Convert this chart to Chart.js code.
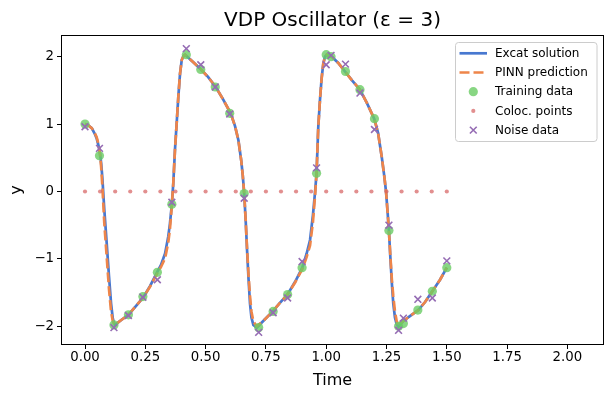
<!DOCTYPE html>
<html><head><meta charset="utf-8">
<script src="https://cdn.jsdelivr.net/npm/chart.js@4.4.0/dist/chart.umd.min.js"></script>
<style>html,body{margin:0;padding:0;background:#fff;}canvas{display:block;}</style>
</head><body>
<canvas id="c" width="613" height="398"></canvas>
<script>
// ---- data ----
const exactT = [0.000,0.014,0.028,0.040,0.048,0.056,0.062,0.067,0.072,0.080,0.090,0.0995,0.108,0.115,0.120,0.124,
  0.149,0.180,0.211,0.242,0.270,0.297,0.315,0.332,0.345,0.352,0.360,0.366,0.373,0.380,0.387,0.394,0.401,0.408,0.415,
  0.448,0.481,0.510,0.542,0.572,0.604,0.622,0.636,0.648,0.654,0.660,0.666,0.672,0.678,0.684,0.690,0.698,0.712,
  0.742,0.778,0.809,0.839,0.871,0.901,0.919,0.933,0.945,0.954,0.960,0.967,0.974,0.981,0.988,0.995,1.002,
  1.023,1.049,1.078,1.107,1.140,1.169,1.199,1.215,1.230,1.240,1.248,1.254,1.260,1.266,1.272,1.278,1.285,1.292,1.299,
  1.320,1.347,1.382,1.410,1.440,1.472,1.500];
const exactY = [1.00,0.98,0.94,0.86,0.79,0.68,0.57,0.42,0.20,-0.27,-0.77,-1.26,-1.66,-1.88,-1.95,-1.98,
  -1.91,-1.83,-1.70,-1.57,-1.40,-1.21,-1.09,-0.92,-0.67,-0.48,-0.19,0.12,0.62,1.01,1.41,1.75,1.95,2.01,2.03,
  1.92,1.81,1.70,1.55,1.37,1.16,0.97,0.76,0.45,0.24,-0.03,-0.42,-0.88,-1.30,-1.66,-1.87,-1.98,-2.02,
  -1.91,-1.78,-1.65,-1.53,-1.34,-1.13,-0.92,-0.72,-0.35,0.00,0.27,0.95,1.35,1.68,1.90,2.00,2.03,
  2.00,1.91,1.78,1.65,1.51,1.31,1.08,0.87,0.52,0.25,0.00,-0.28,-0.58,-0.98,-1.35,-1.66,-1.87,-1.97,-2.01,
  -1.92,-1.85,-1.76,-1.64,-1.48,-1.31,-1.13];
const pinnY = [1.00,0.98,0.94,0.87,0.81,0.70,0.56,0.36,0.08,-0.47,-0.97,-1.45,-1.78,-1.92,-1.96,-1.98,
  -1.91,-1.83,-1.70,-1.57,-1.41,-1.23,-1.12,-0.99,-0.76,-0.56,-0.21,0.12,0.62,1.01,1.41,1.75,1.95,2.01,2.03,
  1.92,1.81,1.70,1.55,1.37,1.16,0.97,0.76,0.45,0.24,-0.03,-0.42,-0.86,-1.24,-1.55,-1.78,-1.93,-2.00,
  -1.91,-1.78,-1.65,-1.53,-1.35,-1.15,-0.97,-0.80,-0.45,-0.05,0.27,0.95,1.35,1.68,1.90,2.00,2.03,
  2.00,1.91,1.78,1.65,1.51,1.31,1.08,0.87,0.52,0.25,0.00,-0.28,-0.58,-0.96,-1.30,-1.55,-1.78,-1.92,-1.99,
  -1.92,-1.85,-1.76,-1.64,-1.48,-1.31,-1.13];
const trainT = [0.00,0.06,0.12,0.18,0.24,0.30,0.36,0.42,0.48,0.54,0.60,0.66,0.72,0.78,0.84,0.90,0.96,1.00,1.02,1.08,1.14,1.20,1.26,1.30,1.32,1.38,1.44,1.50];
const trainY = [1.00,0.53,-1.98,-1.83,-1.56,-1.20,-0.19,2.03,1.81,1.55,1.16,-0.03,-2.02,-1.78,-1.53,-1.13,0.27,2.03,2.00,1.78,1.51,1.08,-0.58,-2.00,-1.96,-1.76,-1.48,-1.13];
const colocT = [0.0,0.0625,0.125,0.1875,0.25,0.3125,0.375,0.4375,0.5,0.5625,0.625,0.6875,0.75,0.8125,0.875,0.9375,1.0,1.0625,1.125,1.1875,1.25,1.3125,1.375,1.4375,1.5];
const colocY = [0,0,0,0,0,0,0,0,0,0,0,0,0,0,0,0,0,0,0,0,0,0,0,0,0];
const noiseT = [0.00,0.06,0.12,0.18,0.24,0.30,0.36,0.42,0.48,0.54,0.60,0.66,0.72,0.78,0.84,0.90,0.96,1.00,1.02,1.08,1.14,1.20,1.26,1.30,1.32,1.38,1.44,1.50];
const noiseY = [0.96,0.64,-2.02,-1.84,-1.57,-1.31,-0.16,2.12,1.88,1.55,1.15,-0.10,-2.09,-1.80,-1.58,-1.04,0.35,1.88,2.02,1.89,1.46,0.92,-0.50,-2.06,-1.88,-1.60,-1.58,-1.03];
const xTicks = [0,0.25,0.5,0.75,1.0,1.25,1.5,1.75,2.0];
const xTickLabels = ['0.00','0.25','0.50','0.75','1.00','1.25','1.50','1.75','2.00'];
const yTicks = [-2,-1,0,1,2];
const yTickLabels = ['\u22122','\u22121','0','1','2'];
const seriesNames = ['Excat solution','PINN prediction','Training data','Coloc. points','Noise data'];
const titleText = 'VDP Oscillator (\u03b5 = 3)';
const xLabel = 'Time';
const yLabel = 'y';

// ---- styles ----
const C_BLUE = '#4878d0', C_ORANGE = '#ee854a', C_GREEN = 'rgba(106,204,100,0.8)',
      C_RED = 'rgba(214,95,95,0.7)', C_PURPLE = '#956cb4';
const FONT = 'DejaVu Sans';
Chart.defaults.font.family = FONT;
Chart.defaults.color = '#000';

function pts(xs, ys){ return xs.map((x,i)=>({x:x, y:ys[i]})); }

const framePlugin = {
  id:'frame',
  afterDatasetsDraw(chart){
    const {ctx, chartArea:a} = chart;
    ctx.save();
    ctx.strokeStyle = '#000'; ctx.lineWidth = 1;
    ctx.strokeRect(Math.round(a.left)-0.5, Math.round(a.top)-0.5, Math.round(a.right-a.left)+1, Math.round(a.bottom-a.top)+1);
    ctx.restore();
  }
};

const legendPlugin = {
  id:'mplLegend',
  afterDraw(chart){
    const ctx = chart.ctx;
    const bx = 455.5, by = 42.5, bw = 141.5, bh = 99, r = 3;
    ctx.save();
    ctx.beginPath();
    ctx.moveTo(bx+r,by); ctx.lineTo(bx+bw-r,by); ctx.arcTo(bx+bw,by,bx+bw,by+r,r);
    ctx.lineTo(bx+bw,by+bh-r); ctx.arcTo(bx+bw,by+bh,bx+bw-r,by+bh,r);
    ctx.lineTo(bx+r,by+bh); ctx.arcTo(bx,by+bh,bx,by+bh-r,r);
    ctx.lineTo(bx,by+r); ctx.arcTo(bx,by,bx+r,by,r); ctx.closePath();
    ctx.fillStyle = 'rgba(255,255,255,0.8)'; ctx.fill();
    ctx.strokeStyle = '#cccccc'; ctx.lineWidth = 1; ctx.stroke();
    const rows = [53.3, 72.5, 91.7, 110.9, 130.1];
    const hx0 = 459.5, hx1 = 487, hc = 473.3, tx = 495;
    ctx.font = '12px "' + FONT + '"';
    ctx.textBaseline = 'middle'; ctx.textAlign = 'left';
    rows.forEach((y,i)=>{
      if (i===0 || i===1){
        ctx.beginPath(); ctx.moveTo(hx0,y); ctx.lineTo(hx1,y);
        ctx.strokeStyle = i===0 ? C_BLUE : C_ORANGE; ctx.lineWidth = 2.7;
        ctx.setLineDash(i===0 ? [] : [10,4]); ctx.stroke(); ctx.setLineDash([]);
      } else if (i===2){
        ctx.beginPath(); ctx.arc(hc,y,4.6,0,Math.PI*2); ctx.fillStyle = C_GREEN; ctx.fill();
      } else if (i===3){
        ctx.beginPath(); ctx.arc(hc,y,2.1,0,Math.PI*2); ctx.fillStyle = C_RED; ctx.fill();
      } else {
        const d = 3.4;
        ctx.beginPath(); ctx.moveTo(hc-d,y-d); ctx.lineTo(hc+d,y+d); ctx.moveTo(hc-d,y+d); ctx.lineTo(hc+d,y-d);
        ctx.strokeStyle = C_PURPLE; ctx.lineWidth = 1.6; ctx.stroke();
      }
      ctx.fillStyle = '#000';
      ctx.fillText(seriesNames[i], tx, y+0.5);
    });
    ctx.restore();
  }
};

new Chart(document.getElementById('c'), {
  type:'scatter',
  data:{
    datasets:[
      {label:seriesNames[0], data:pts(exactT,exactY), showLine:true, borderColor:C_BLUE, borderWidth:2.7, pointRadius:0, tension:0, fill:false, order:5},
      {label:seriesNames[1], data:pts(exactT,pinnY), showLine:true, borderColor:C_ORANGE, borderWidth:2.7, borderDash:[10,4], pointRadius:0, tension:0, fill:false, order:4},
      {label:seriesNames[2], data:pts(trainT,trainY), showLine:false, pointStyle:'circle', pointRadius:4.6, pointBackgroundColor:C_GREEN, pointBorderWidth:0, pointBorderColor:'rgba(0,0,0,0)', order:3},
      {label:seriesNames[3], data:pts(colocT,colocY), showLine:false, pointStyle:'circle', pointRadius:2.1, pointBackgroundColor:C_RED, pointBorderWidth:0, pointBorderColor:'rgba(0,0,0,0)', order:2},
      {label:seriesNames[4], data:pts(noiseT,noiseY), showLine:false, pointStyle:'crossRot', pointRadius:4.8, pointBorderColor:C_PURPLE, pointBackgroundColor:C_PURPLE, pointBorderWidth:1.6, order:1}
    ]
  },
  options:{
    responsive:false, animation:false, devicePixelRatio:1, events:[],
    layout:{padding:{left:0,right:10,top:0,bottom:0}},
    plugins:{
      legend:{display:false}, tooltip:{enabled:false},
      title:{display:true, text:titleText, fullSize:false, color:'#000', font:{size:20, weight:'normal', family:FONT, lineHeight:1.2}, padding:{top:9,bottom:3}}
    },
    scales:{
      x:{
        type:'linear', min:-0.0954, max:2.1476,
        afterBuildTicks(s){ s.ticks = xTicks.map(v=>({value:v})); },
        afterFit(s){ s.height = 54; },
        ticks:{ autoSkip:false, maxRotation:0, padding:1, font:{size:13.3, family:FONT}, color:'#000',
          callback:(v,i)=> xTickLabels[xTicks.indexOf(v)] ?? '' },
        grid:{ display:true, drawOnChartArea:false, drawTicks:true, tickLength:5, color:'#000', lineWidth:1 },
        border:{display:false},
        title:{ display:true, text:xLabel, color:'#000', font:{size:16, family:FONT, lineHeight:1.2}, padding:{top:0,bottom:7.4} }
      },
      y:{
        type:'linear', min:-2.263, max:2.307,
        afterBuildTicks(s){ s.ticks = yTicks.map(v=>({value:v})); },
        afterFit(s){ s.width = 62; },
        ticks:{ autoSkip:false, padding:3, font:{size:13.3, family:FONT}, color:'#000',
          callback:(v,i)=> yTickLabels[yTicks.indexOf(v)] ?? '' },
        grid:{ display:true, drawOnChartArea:false, drawTicks:true, tickLength:5, color:'#000', lineWidth:1 },
        border:{display:false},
        title:{ display:true, text:yLabel, color:'#000', font:{size:16, family:FONT, lineHeight:1.2}, padding:{top:7.4,bottom:0} }
      }
    }
  },
  plugins:[framePlugin, legendPlugin]
});
</script>
</body></html>
